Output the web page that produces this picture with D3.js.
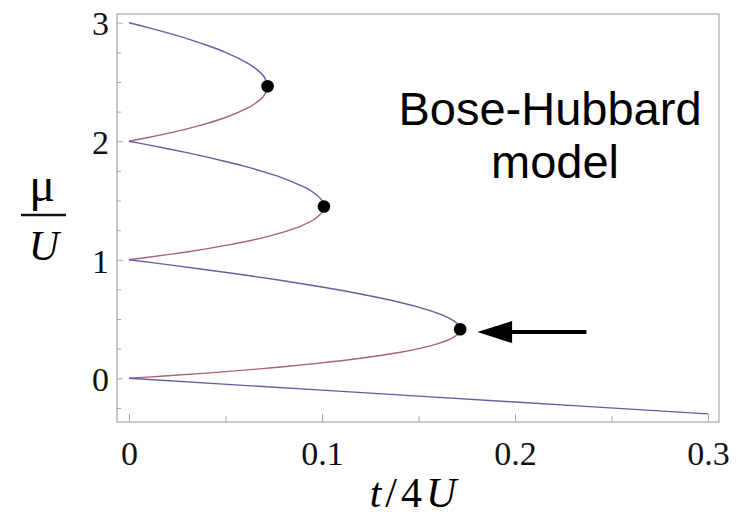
<!DOCTYPE html>
<html>
<head>
<meta charset="utf-8">
<title>Bose-Hubbard model</title>
<script src="https://d3js.org/d3.v7.min.js"></script>
<style>
  body { margin: 0; background: #fff; }
  .tick text { font-family: "Liberation Serif", "Times New Roman", serif; font-size: 34px; fill: #111; }
  .tick line { stroke: #a8a8a8; }
</style>
</head>
<body>
<div id="chart"></div>
<script>
// tick values
let xMajor = [0, 0.1, 0.2, 0.3]
let xMinor = [0.05, 0.15, 0.25]
let yMajor = [0, 1, 2, 3]
let yMinor = [-0.25, 0.25, 0.5, 0.75, 1.25, 1.5, 1.75, 2.25, 2.5, 2.75]

// phase boundary, [t/4U, mu/U]
let upper1 = [[0, 1], [0.02, 0.959], [0.04, 0.916], [0.06, 0.871], [0.08, 0.823], [0.10, 0.770], [0.12, 0.711], [0.14, 0.642], [0.15, 0.600], [0.16, 0.548], [0.165, 0.514], [0.17, 0.462], [0.1716, 0.414]]
let lower1 = [[0, 0], [0.02, 0.021], [0.04, 0.044], [0.06, 0.069], [0.08, 0.097], [0.10, 0.130], [0.12, 0.169], [0.14, 0.218], [0.15, 0.250], [0.16, 0.292], [0.165, 0.321], [0.17, 0.368], [0.1716, 0.414]]
let upper2 = [[0, 2], [0.01, 1.969], [0.02, 1.937], [0.03, 1.904], [0.04, 1.868], [0.05, 1.829], [0.06, 1.788], [0.07, 1.741], [0.08, 1.687], [0.09, 1.619], [0.095, 1.574], [0.10, 1.500], [0.101, 1.449]]
let lower2 = [[0, 1], [0.01, 1.021], [0.02, 1.043], [0.03, 1.066], [0.04, 1.092], [0.05, 1.121], [0.06, 1.152], [0.07, 1.189], [0.08, 1.233], [0.09, 1.291], [0.095, 1.331], [0.10, 1.400], [0.101, 1.449]]
let upper3 = [[0, 3], [0.01, 2.959], [0.02, 2.914], [0.03, 2.866], [0.04, 2.812], [0.05, 2.750], [0.06, 2.672], [0.065, 2.621], [0.07, 2.544], [0.0718, 2.464]]
let lower3 = [[0, 2], [0.01, 2.031], [0.02, 2.066], [0.03, 2.104], [0.04, 2.148], [0.05, 2.200], [0.06, 2.268], [0.065, 2.314], [0.07, 2.386], [0.0718, 2.464]]
let vacuum = [[0, 0], [0.1, -0.1], [0.2, -0.2], [0.3, -0.3]]

// lobe tips
let tipX = [0.0718, 0.101, 0.1716]
let tipY = [2.464, 1.449, 0.414]

let width = 737, height = 518
let frame = { left: 117, right: 719, top: 14, bottom: 422 }

let svg = d3.select("#chart").append("svg")
    .attr("width", width)
    .attr("height", height)

let x = d3.scaleLinear().domain([0, 0.3]).range([129, 708])
let y = d3.scaleLinear().domain([0, 3]).range([378.3, 22.7])

// frame
svg.append("rect")
    .attr("x", frame.left).attr("y", frame.top)
    .attr("width", frame.right - frame.left)
    .attr("height", frame.bottom - frame.top)
    .attr("fill", "none")
    .attr("stroke", "#a8a8a8")
    .attr("stroke-width", 1.2)

// ticks pointing inward
let gx = svg.append("g").attr("transform", `translate(0, ${frame.bottom})`)
    .call(d3.axisBottom(x).tickValues(xMajor).tickSize(-8).tickPadding(19).tickFormat(d => d === 0 ? "0" : d3.format(".1f")(d)))
gx.select(".domain").remove()
svg.append("g").attr("transform", `translate(0, ${frame.bottom})`)
    .call(d3.axisBottom(x).tickValues(xMinor).tickSize(-6).tickFormat(""))
    .select(".domain").remove()

let gy = svg.append("g").attr("transform", `translate(${frame.left}, 0)`)
    .call(d3.axisLeft(y).tickValues(yMajor).tickSize(-6).tickPadding(8).tickFormat(d3.format("d")))
gy.select(".domain").remove()
gy.selectAll("text").attr("dy", "0.36em")
svg.append("g").attr("transform", `translate(${frame.left}, 0)`)
    .call(d3.axisLeft(y).tickValues(yMinor).tickSize(-4).tickFormat(""))
    .select(".domain").remove()

// curves
let line = d3.line()
    .x(d => x(d[0]))
    .y(d => y(d[1]))
    .curve(d3.curveCatmullRom.alpha(0.5))

let blue = "#5f60a2", red = "#a8607e"
let curves = [[upper3, blue], [lower3, red], [upper2, blue], [lower2, red], [upper1, blue], [lower1, red], [vacuum, blue]]
svg.selectAll("path.curve")
    .data(curves)
    .enter()
    .append("path")
    .attr("class", "curve")
    .attr("d", d => line(d[0]))
    .attr("fill", "none")
    .attr("stroke", d => d[1])
    .attr("stroke-width", 1.4)

// tips
svg.selectAll("circle.tip")
    .data(tipX)
    .enter()
    .append("circle")
    .attr("class", "tip")
    .attr("cx", d => x(d))
    .attr("cy", (d, i) => y(tipY[i]))
    .attr("r", 6.3)
    .attr("fill", "#000")

// arrow
let ay = y(0.39)
svg.append("line")
    .attr("x1", x(0.237)).attr("y1", ay)
    .attr("x2", x(0.19)).attr("y2", ay)
    .attr("stroke", "#000")
    .attr("stroke-width", 4)
svg.append("path")
    .attr("d", `M${x(0.1805)},${ay} L${x(0.1985)},${ay - 11} L${x(0.1985)},${ay + 11} Z`)
    .attr("fill", "#000")

// annotation text
let sans = "Liberation Sans, Arial, sans-serif"
svg.append("text")
    .attr("x", 550).attr("y", 125)
    .attr("text-anchor", "middle")
    .style("font-family", sans)
    .style("font-size", "47px")
    .text("Bose-Hubbard")
svg.append("text")
    .attr("x", 555).attr("y", 178)
    .attr("text-anchor", "middle")
    .style("font-family", sans)
    .style("font-size", "47px")
    .text("model")

// axis labels
let serif = "Liberation Serif, Times New Roman, serif"
let xl = svg.append("text")
    .attr("x", 413).attr("y", 507)
    .attr("text-anchor", "middle")
    .style("font-family", serif)
    .style("font-size", "42px")
xl.append("tspan").style("font-style", "italic").text("t")
xl.append("tspan").attr("dx", 4).text("/")
xl.append("tspan").attr("dx", 4).text("4")
xl.append("tspan").attr("dx", 4).style("font-style", "italic").text("U")

svg.append("text")
    .attr("x", 42).attr("y", 201)
    .attr("text-anchor", "middle")
    .style("font-family", serif)
    .style("font-size", "48px")
    .text("μ")
svg.append("line")
    .attr("x1", 21).attr("x2", 66)
    .attr("y1", 215).attr("y2", 215)
    .attr("stroke", "#111")
    .attr("stroke-width", 2.6)
svg.append("text")
    .attr("x", 44).attr("y", 260)
    .attr("text-anchor", "middle")
    .style("font-family", serif)
    .style("font-size", "42px")
    .style("font-style", "italic")
    .text("U")
</script>
</body>
</html>
